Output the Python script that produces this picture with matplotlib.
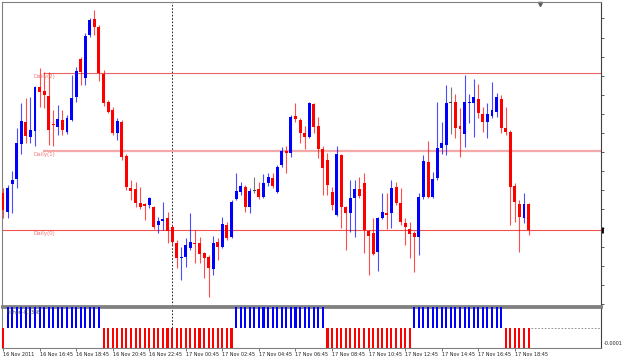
import matplotlib
matplotlib.use('Agg')
import matplotlib.pyplot as plt
import numpy as np

# M15 candles, 16 Nov 2011 14:45 -> 17 Nov 2011 19:30
opens = [1.35184, 1.35084, 1.35231, 1.35257, 1.35441, 1.35557, 1.35478, 1.35509,
         1.35740, 1.35719, 1.35693, 1.35546, 1.35530, 1.35567, 1.35504, 1.35567,
         1.35688, 1.35887, 1.35788, 1.36013, 1.36097, 1.36055, 1.35809, 1.35662,
         1.35620, 1.35499, 1.35557, 1.35378, 1.35210, 1.35205, 1.35131, 1.35126,
         1.35121, 1.35110, 1.35016, 1.35037, 1.35053, 1.35005, 1.34921, 1.34843,
         1.34848, 1.34895, 1.34921, 1.34921, 1.34869, 1.34848, 1.34785, 1.34927,
         1.34900, 1.35016, 1.34953, 1.35152, 1.35189, 1.35215, 1.35110, 1.35194,
         1.35205, 1.35163, 1.35236, 1.35263, 1.35189, 1.35331, 1.35404, 1.35394,
         1.35588, 1.35567, 1.35499, 1.35478, 1.35651, 1.35536, 1.35415, 1.35357,
         1.35189, 1.35068, 1.35383, 1.35110, 1.35079, 1.35158, 1.35205, 1.35236,
         1.34984, 1.34974, 1.34874, 1.35053, 1.35079, 1.35079, 1.35215, 1.35131,
         1.35026, 1.34995, 1.34974, 1.34953, 1.35163, 1.35347, 1.35163, 1.35263,
         1.35420, 1.35436, 1.35656, 1.35662, 1.35536, 1.35494, 1.35656, 1.35656,
         1.35677, 1.35599, 1.35557, 1.35588, 1.35609, 1.35677, 1.35525, 1.35504,
         1.35221, 1.35126, 1.35053, 1.35126]
highs = [1.35210, 1.35226, 1.35299, 1.35525, 1.35656, 1.35683, 1.35688, 1.35746,
         1.35840, 1.35819, 1.35819, 1.35620, 1.35646, 1.35620, 1.35593, 1.35803,
         1.35845, 1.35898, 1.36024, 1.36103, 1.36145, 1.36066, 1.35830, 1.35672,
         1.35635, 1.35578, 1.35567, 1.35389, 1.35252, 1.35242, 1.35215, 1.35131,
         1.35163, 1.35116, 1.35058, 1.35137, 1.35084, 1.35016, 1.34937, 1.34900,
         1.34948, 1.35079, 1.34990, 1.34953, 1.34874, 1.34858, 1.34958, 1.34948,
         1.35058, 1.35032, 1.35147, 1.35289, 1.35242, 1.35226, 1.35210, 1.35268,
         1.35242, 1.35284, 1.35289, 1.35289, 1.35331, 1.35425, 1.35431, 1.35593,
         1.35656, 1.35578, 1.35536, 1.35662, 1.35656, 1.35583, 1.35431, 1.35394,
         1.35215, 1.35431, 1.35389, 1.35116, 1.35252, 1.35252, 1.35268, 1.35289,
         1.34990, 1.35053, 1.35058, 1.35184, 1.35184, 1.35252, 1.35242, 1.35210,
         1.35053, 1.35032, 1.34984, 1.35184, 1.35383, 1.35457, 1.35294, 1.35662,
         1.35557, 1.35751, 1.35740, 1.35704, 1.35630, 1.35803, 1.35704, 1.35782,
         1.35756, 1.35635, 1.35656, 1.35767, 1.35709, 1.35698, 1.35635, 1.35515,
         1.35236, 1.35147, 1.35184, 1.35131]
lows = [1.35053, 1.35053, 1.35079, 1.35210, 1.35389, 1.35446, 1.35446, 1.35431,
        1.35635, 1.35630, 1.35436, 1.35431, 1.35488, 1.35488, 1.35494, 1.35562,
        1.35662, 1.35751, 1.35751, 1.36003, 1.36013, 1.35772, 1.35641, 1.35604,
        1.35488, 1.35462, 1.35357, 1.35200, 1.35147, 1.35110, 1.35100, 1.35042,
        1.35105, 1.34995, 1.34974, 1.34990, 1.34921, 1.34911, 1.34790, 1.34727,
        1.34795, 1.34885, 1.34816, 1.34816, 1.34738, 1.34638, 1.34753, 1.34832,
        1.34895, 1.34937, 1.34948, 1.35147, 1.35173, 1.35084, 1.35079, 1.35184,
        1.35152, 1.35155, 1.35221, 1.35210, 1.35184, 1.35320, 1.35289, 1.35373,
        1.35557, 1.35446, 1.35415, 1.35473, 1.35499, 1.35368, 1.35173, 1.35173,
        1.35095, 1.35063, 1.35000, 1.34885, 1.34979, 1.34953, 1.35158, 1.34869,
        1.34753, 1.34858, 1.34774, 1.35047, 1.34995, 1.35000, 1.35121, 1.35016,
        1.34911, 1.34843, 1.34769, 1.34858, 1.35152, 1.35158, 1.35158, 1.35252,
        1.35389, 1.35383, 1.35494, 1.35473, 1.35373, 1.35425, 1.35551, 1.35478,
        1.35578, 1.35504, 1.35473, 1.35578, 1.35583, 1.35499, 1.35488, 1.35016,
        1.35032, 1.34874, 1.35026, 1.34963]
closes = [1.35095, 1.35210, 1.35252, 1.35446, 1.35562, 1.35483, 1.35515, 1.35740,
          1.35714, 1.35698, 1.35515, 1.35541, 1.35572, 1.35515, 1.35578, 1.35683,
          1.35824, 1.35819, 1.36008, 1.36092, 1.36055, 1.35814, 1.35656, 1.35609,
          1.35499, 1.35562, 1.35373, 1.35215, 1.35194, 1.35131, 1.35110, 1.35116,
          1.35158, 1.35005, 1.35037, 1.35047, 1.34984, 1.34927, 1.34843, 1.34848,
          1.34911, 1.34927, 1.34916, 1.34864, 1.34843, 1.34790, 1.34921, 1.34900,
          1.35021, 1.34948, 1.35137, 1.35194, 1.35221, 1.35110, 1.35194, 1.35194,
          1.35163, 1.35236, 1.35268, 1.35221, 1.35320, 1.35404, 1.35394, 1.35583,
          1.35572, 1.35499, 1.35478, 1.35656, 1.35530, 1.35415, 1.35315, 1.35226,
          1.35121, 1.35389, 1.35110, 1.35079, 1.35158, 1.35205, 1.35168, 1.34990,
          1.34958, 1.34864, 1.35053, 1.35084, 1.35068, 1.35210, 1.35131, 1.35032,
          1.35005, 1.34969, 1.34953, 1.35163, 1.35352, 1.35163, 1.35257, 1.35420,
          1.35446, 1.35656, 1.35656, 1.35525, 1.35520, 1.35662, 1.35662, 1.35688,
          1.35604, 1.35557, 1.35599, 1.35620, 1.35688, 1.35525, 1.35504, 1.35215,
          1.35137, 1.35058, 1.35126, 1.34990]

# indicator histogram: (sign, number of bars)
signal_runs = [(-1, 1), (1, 21), (-1, 29), (1, 20), (-1, 19), (1, 20), (-1, 6)]

# daily pivot levels
daily_names = ['Daily(2)', 'Daily(1)', 'Daily(0)']
daily_levels = [1.35814, 1.35404, 1.34990]

time_labels = ['16 Nov 2011', '16 Nov 16:45', '16 Nov 18:45', '16 Nov 20:45',
               '16 Nov 22:45', '17 Nov 00:45', '17 Nov 02:45', '17 Nov 04:45',
               '17 Nov 06:45', '17 Nov 08:45', '17 Nov 10:45', '17 Nov 12:45',
               '17 Nov 14:45', '17 Nov 16:45', '17 Nov 18:45']
day_break = 37  # 17 Nov 00:00

opens = np.array(opens)
closes = np.array(closes)
idx = np.arange(len(opens))
signal = np.concatenate([[s] * n for s, n in signal_runs])

BLUE = '#0000ff'
RED = '#ff0000'
GRID = '#808080'

fig = plt.figure(figsize=(6.25, 3.6), dpi=100)
fig.patch.set_facecolor('white')
ax = fig.add_axes([2 / 625, 1 - 306 / 360, 599 / 625, 304 / 360])
ax2 = fig.add_axes([2 / 625, 1 - 348 / 360, 599 / 625, 41 / 360])
xlim = (-0.22, 130.85)

# candles
colors = np.where(closes > opens, BLUE, np.where(closes < opens, RED, '#404040'))
body = np.maximum(np.abs(closes - opens), 0.00005)
bottom = np.minimum(opens, closes)
ax.vlines(idx, lows, highs, colors=colors, lw=0.8, alpha=0.7, zorder=3)
ax.bar(idx, body, bottom=bottom, width=0.65, color=colors, linewidth=0, zorder=4)

# pivot lines
ax.hlines(daily_levels[0], 8.8, xlim[1], color='#e86464', lw=0.8, zorder=2)
ax.hlines(daily_levels[1], 8.8, xlim[1], color='#f5a8a8', lw=1.6, zorder=2)
ax.hlines(daily_levels[2], xlim[0], xlim[1], color='#f05050', lw=0.8, zorder=2)
for name, lvl in zip(daily_names, daily_levels):
    ax.text(6.6, lvl - 0.00004, name, fontsize=4, color='#f07878', va='top', ha='left')

ax.axvline(day_break, color='k', ls=(0, (2, 2)), lw=0.6, zorder=1)
ax2.axvline(day_break, color='k', ls=(0, (2, 2)), lw=0.6, zorder=1)

ax.set_xlim(xlim)
ax.set_ylim(1.345905, 1.361865)
ax.set_xticks([])
ax.yaxis.tick_right()
ax.set_yticks(np.arange(1.346, 1.3615, 0.001))
ax.set_yticklabels([])
ax.tick_params(axis='y', length=2, width=0.6, color='#404040')

# current price marker and chart shift marker
ax.plot([xlim[1] + 0.3], [closes[-1]], marker='|', ms=5, mew=2, color='k', clip_on=False)
ax.plot([117.5], [1.36175], marker='v', ms=3, color='#606060', clip_on=False)

for s in ax.spines.values():
    s.set_color(GRID)
    s.set_linewidth(0.8)
ax.spines['right'].set_color('#404040')
ax.spines['bottom'].set_linewidth(2)

# indicator histogram
sig_colors = [BLUE if s > 0 else RED for s in signal]
ax2.bar(idx, signal, width=0.45, color=sig_colors, linewidth=0, zorder=3)
ax2.hlines(0, idx[-1] + 0.5, xlim[1], color=GRID, lw=0.6, ls=(0, (2, 2)))
ax2.set_xlim(xlim)
ax2.set_ylim(-1, 1)
ax2.set_yticks([])
ax2.set_xticks(idx[::8][:len(time_labels)])
ax2.set_xticklabels(time_labels, ha='left', fontsize=3.5, color='#202020')
ax2.tick_params(axis='x', length=2, width=0.5, pad=1, color='#404040')
ax2.text(1.004, 0.04, '-0.0001', transform=ax2.transAxes, fontsize=3.5,
         color='#202020', va='bottom', ha='left')
ax2.text(0.008, 0.93, 'Fisher -0.1336', transform=ax2.transAxes, fontsize=3.3,
         color='#404040', va='top', ha='left', zorder=5)
for s in ax2.spines.values():
    s.set_color(GRID)
    s.set_linewidth(0.8)
ax2.spines['right'].set_color('#404040')
ax2.spines['top'].set_linewidth(2)

fig.savefig('out.png', dpi=100, facecolor='white')
